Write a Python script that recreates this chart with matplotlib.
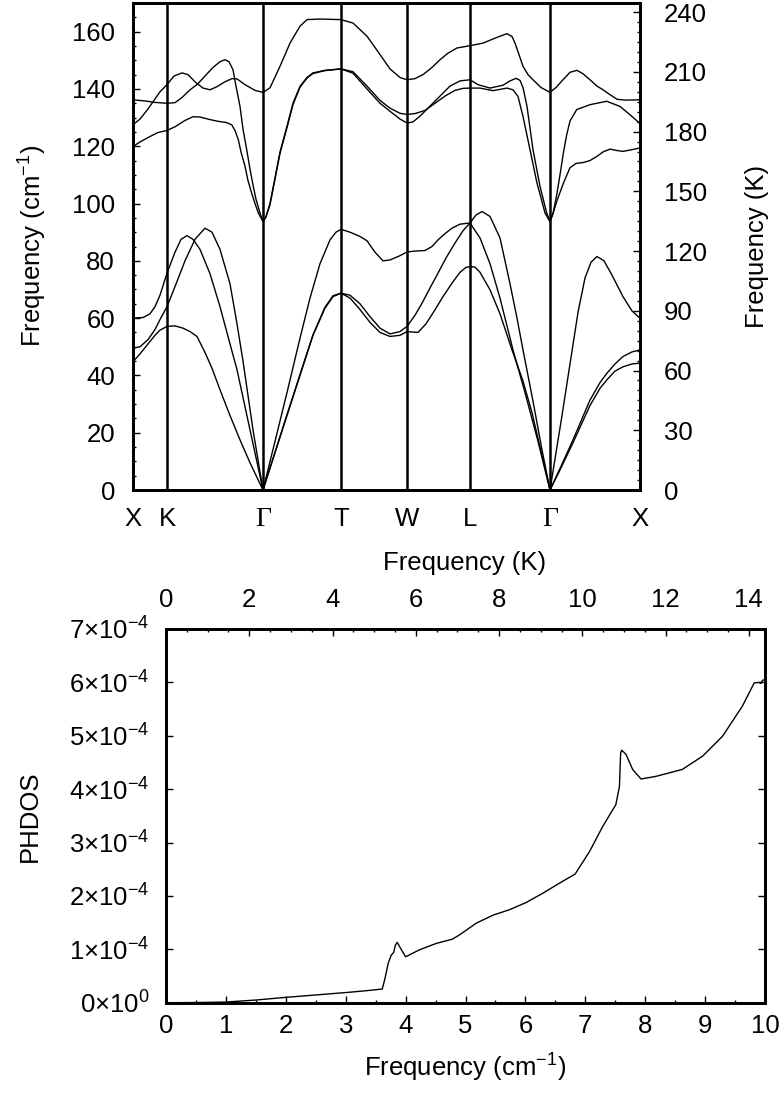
import numpy as np
import matplotlib
matplotlib.use('Agg')
import matplotlib.pyplot as plt
from matplotlib.ticker import MultipleLocator, FuncFormatter

plt.rcParams['font.family'] = ['Liberation Sans', 'DejaVu Sans']
plt.rcParams['mathtext.fontset'] = 'custom'
plt.rcParams['mathtext.rm'] = 'Liberation Sans'
plt.rcParams['mathtext.it'] = 'Liberation Sans:italic'
plt.rcParams['font.size'] = 18.5

CM_TO_K = 1.4388   # 1 cm^-1 in kelvin

# ---------------- phonon dispersion ----------------
sym_labels = ['X', 'K', 'Γ', 'T', 'W', 'L', 'Γ', 'X']
sym_k = [0, 34, 130, 208, 274, 337, 417, 507]

# acoustic branches (cm^-1)
ac1_k = [0, 10, 17, 22, 27, 34, 42, 48, 54, 60, 67, 77, 87, 97, 104, 117, 130,
         142, 154, 167, 177, 187, 197, 203, 208,
         217, 227, 234, 242, 250, 257, 267, 274,
         282, 292, 299, 305, 312, 319, 327, 337,
         347, 357, 367, 380, 392, 405, 417,
         423, 429, 437, 445, 452, 458, 464, 471, 479, 490, 499, 507]
ac1_f = [60.0, 60.2, 61.5, 64, 68, 75.7, 83, 87.5, 88.8, 87.5, 84, 75.5, 64, 51, 42, 21, 0,
         17, 34, 53, 67, 79, 87.3, 90, 91,
         90, 88.5, 87, 83, 80, 80.3, 81.8, 83.1,
         83.4, 83.6, 85, 87.3, 89.5, 91.4, 92.8, 93.2,
         88, 79, 67, 48.9, 34, 17, 0,
         13, 26, 44, 62, 74, 79.5, 81.5, 80, 75, 67.5, 62.5, 60]

ac2_k = [0, 7, 15, 22, 27, 34, 42, 52, 62, 72, 79, 87, 97, 104, 110, 120, 130,
         142, 154, 167, 180, 192, 200, 208,
         217, 227, 237, 247, 257, 267, 274,
         282, 289, 297, 305, 313, 322, 330, 337, 343, 349, 357, 367, 377, 384, 390, 400, 409, 417,
         427, 440, 457, 467, 474, 482, 490, 499, 507]
ac2_f = [49.5, 50, 52.5, 56, 59.5, 64, 71, 80, 87.5, 91.4, 90, 84, 72, 58, 45, 21, 0,
         13, 26, 40, 54, 63.5, 67.5, 68.7,
         68, 65, 60.5, 56.5, 54.5, 55.3, 57.1,
         61, 65.2, 70.5, 75.7, 81, 86.2, 90.5, 93.2, 96, 97.2, 95.5, 88, 72, 60, 48.9, 31, 14, 0,
         7.5, 17.5, 31.4, 37.5, 40.8, 44, 46.6, 48.2, 48.9]

ac3_k = [0, 7, 15, 22, 27, 34, 42, 50, 57, 64, 72, 79, 87, 97, 107, 117, 130,
         142, 154, 167, 180, 192, 200, 208,
         217, 227, 237, 247, 257, 267, 274,
         285, 293, 302, 310, 319, 327, 333, 337,
         342, 347, 357, 367, 379, 390, 399, 407, 417,
         427, 440, 457, 467, 474, 482, 490, 499, 507]
ac3_f = [44.8, 47.5, 51, 54, 55.8, 57.1, 57.3, 56.5, 55.3, 53.6, 48, 42.5, 35, 26, 17.5, 9.5, 0,
         13.2, 26.3, 40.3, 54.2, 63.8, 67.8, 68.7,
         67, 63, 58.5, 55, 53.6, 54, 55.3,
         55, 58, 62.9, 67.5, 72.2, 76, 77.7, 78,
         77.8, 76, 69.9, 61.5, 48.9, 38, 27, 15, 0,
         7, 16.5, 29.5, 35.5, 38.5, 41.5, 43, 44, 44.3]

# optical branches (cm^-1)
op1_k = [0, 7, 15, 22, 27, 34, 41, 49, 55, 62, 70, 77, 84, 92, 99, 104, 112, 122, 130,
         137, 147, 157, 167, 174, 187, 208,
         220, 234, 245, 257, 267, 274,
         282, 290, 299, 307, 315, 324, 337,
         350, 364, 374, 379, 382, 386, 390, 395, 400, 408, 417,
         423, 430, 437, 444, 450, 457, 464, 470, 477, 484, 492, 507]
op1_f = [127.5, 129.5, 133, 136.5, 139, 141.5, 144.5, 145.6, 145, 142.5, 140.3, 139.7, 140.8,
         142.5, 143.6, 143.5, 141.5, 139.5, 138.8,
         140.4, 147.9, 156, 161.9, 164.2, 164.4, 164.2,
         163, 158.4, 153, 147, 144, 143.2,
         143.6, 145, 147.5, 150.2, 152.5, 154.3, 155.1,
         156, 158, 159.3, 158.3, 156, 152, 147.9, 145, 143.2, 140.5, 138.8,
         140.5, 143.2, 145.8, 146.5, 145.3, 143.2, 141, 139.7, 138, 136.4, 136.1, 136.2]

op2_k = [0, 12, 22, 34, 42, 49, 57, 64, 72, 80, 87, 92, 96, 100, 103, 107, 110, 113.7, 117,
         120.3, 123, 127, 130,
         133, 137, 142, 147, 154, 160, 167, 174, 180, 192, 208,
         220, 234, 247, 257, 267, 274,
         282, 292, 302, 312, 322, 330, 337,
         347, 360, 374, 380, 385, 390, 397, 404, 408, 412, 417,
         420, 423.7, 427, 430.3, 433.7, 437, 443.7, 457, 473.7, 487, 497, 507]
op2_f = [136.2, 135.8, 135.3, 135, 135.2, 137, 139.7, 141.5, 144.5, 147.5, 149.5, 150.2, 149.5,
         146.7, 141, 133.9, 126, 118.8, 112, 106, 101.5, 96.7, 93.7,
         95.5, 100, 109, 118, 127, 135, 140.9, 144, 145.6, 146.5, 147,
         146, 141, 136, 133.3, 131.5, 131.1,
         131.4, 132.5, 135, 137.5, 139.5, 140.2, 140.3,
         140.3, 139.4, 140.3, 139.7, 137.4, 130.4, 118.8, 107.1, 102, 96.7, 93.7,
         96.5, 103, 110, 117.5, 124, 128.8, 132.8, 134.5, 135.7, 133.9, 131, 127.9]

op3_k = [0, 7, 17, 25, 34, 42, 52, 60, 67, 77, 85, 93, 98.7, 102, 105.3, 108, 112, 115, 118.7,
         122, 125.3, 130,
         133, 137, 142, 147, 154, 160, 167, 174, 180, 192, 208,
         220, 234, 247, 257, 267, 274,
         280, 287, 297, 307, 317, 327, 337,
         345, 357, 370, 377, 383, 387, 390, 394, 400, 407, 413.7, 417,
         420, 424, 430.3, 437, 443, 450, 457, 463.7, 470, 477, 484, 490, 499, 507]
op3_f = [119.9, 121.5, 123.4, 124.8, 125.5, 126.8, 129, 130.3, 130.2, 129.3, 128.7, 128.3, 127.5,
         125.5, 122.3, 118, 113, 108, 103.6, 100, 96.7, 93.7,
         95.3, 99.6, 108.5, 117.5, 126.5, 134.6, 140.6, 143.8, 145.4, 146.4, 147,
         145.5, 140, 135, 132.2, 129.5, 128.1,
         128.5, 130.5, 134, 137.5, 141, 142.8, 143.2,
         141.5, 140.3, 141.3, 142.8, 143.7, 143, 140.5, 133.9, 118.8, 106, 96.7, 93.7,
         96.5, 101, 107, 112.5, 114, 114.3, 115, 116.4, 118, 119, 118.5, 118.2, 118.8, 119.4]

bands = [(ac1_k, ac1_f), (ac2_k, ac2_f), (ac3_k, ac3_f),
         (op1_k, op1_f), (op2_k, op2_f), (op3_k, op3_f)]

# ---------------- phonon DOS ----------------
dos_freq = [0, 0.5, 1, 1.5, 2, 2.5, 3, 3.3, 3.61, 3.65, 3.71, 3.76, 3.80, 3.83, 3.86, 3.90, 4.0,
            4.23, 4.51, 4.78, 4.9, 5.18, 5.46, 5.73, 6.01, 6.29, 6.57, 6.83, 7.07, 7.29,
            7.51, 7.57, 7.59, 7.61, 7.68, 7.79, 7.93, 8.18, 8.62, 8.96, 9.29, 9.62, 9.82,
            9.90, 9.93, 9.96, 10.0]
dos_val = [0, 0.003, 0.0125, 0.05, 0.1, 0.145, 0.19, 0.22, 0.256, 0.425, 0.74, 0.89, 0.94, 1.08,
           1.13, 1.05, 0.86,
           0.99, 1.11, 1.19, 1.27, 1.49, 1.64, 1.74, 1.875, 2.05, 2.24, 2.41, 2.83, 3.30,
           3.71, 4.05, 4.68, 4.73, 4.65, 4.37, 4.19, 4.24, 4.37, 4.62, 4.99, 5.55, 5.99,
           6.0, 5.98, 6.04, 6.05]   # in units of 1e-4

W, H = 784, 1094
fig = plt.figure(figsize=(W / 100, H / 100), dpi=100)


def box(l, t, r, b):
    """pixel box -> figure fraction rect"""
    return [l / W, 1 - b / H, (r - l) / W, (b - t) / H]


#------------------------------------------------------------
# top panel: dispersion
ax1 = fig.add_axes(box(133, 3, 640, 490))
for k, f in bands:
    ax1.plot(k, f, color='k', lw=1.0)
for kk in sym_k[1:-1]:
    ax1.axvline(kk, color='k', lw=1.8)
ax1.set_xlim(sym_k[0], sym_k[-1])
ax1.set_ylim(0, 170)
ax1.set_xticks(sym_k, sym_labels)
ax1.tick_params(axis='x', length=0, pad=12)
for lbl in ax1.get_xticklabels():
    if lbl.get_text() == 'Γ':
        lbl.set_fontfamily('Liberation Serif')
        lbl.set_fontsize(20)
ax1.yaxis.set_major_locator(MultipleLocator(20))
ax1.yaxis.set_minor_locator(MultipleLocator(5))
ax1.tick_params(axis='y', which='both', direction='in', left=True, right=False, pad=13)
ax1.tick_params(axis='y', which='major', length=5, width=1)
ax1.tick_params(axis='y', which='minor', length=2.5, width=1)

ax1r = ax1.twinx()
ax1r.set_ylim(0, 170 * CM_TO_K)
ax1r.yaxis.set_major_locator(MultipleLocator(30))
ax1r.yaxis.set_minor_locator(MultipleLocator(5))
ax1r.tick_params(axis='y', which='both', direction='in', pad=17)
ax1r.tick_params(axis='y', which='major', length=5, width=1)
ax1r.tick_params(axis='y', which='minor', length=2.5, width=1)
for a in (ax1, ax1r):
    for s in a.spines.values():
        s.set_linewidth(2)

fig.text(33 / W, 1 - 246 / H, r'Frequency (cm$^{-1}$)', rotation=90, ha='center', va='center')
fig.text(757 / W, 1 - 246 / H, 'Frequency (K)', rotation=90, ha='center', va='center')

#------------------------------------------------------------
# bottom panel: PHDOS
ax2 = fig.add_axes(box(166, 629, 765, 1002.7))
ax2.plot(dos_freq, np.array(dos_val) * 1e-4, color='k', lw=1.0)
ax2.set_xlim(0, 10)
ax2.set_ylim(0, 7e-4)
ax2.xaxis.set_major_locator(MultipleLocator(1))
ax2.xaxis.set_minor_locator(MultipleLocator(0.5))
ax2.yaxis.set_major_locator(MultipleLocator(1e-4))


def sci_fmt(v, pos):
    n = int(round(v / 1e-4))
    if n == 0:
        return r'$0{\times}10^{0}$'
    return r'$%d{\times}10^{-4}$' % n


ax2.yaxis.set_major_formatter(FuncFormatter(sci_fmt))

ax2t = ax2.twiny()
ax2t.set_xlim(0, 10 * CM_TO_K)
ax2t.xaxis.set_major_locator(MultipleLocator(2))
ax2t.xaxis.set_minor_locator(MultipleLocator(0.5))
ax2t.tick_params(axis='x', which='both', direction='in', pad=12)
ax2t.tick_params(axis='x', which='major', length=5, width=1)
ax2t.tick_params(axis='x', which='minor', length=2.5, width=1)

ax2.tick_params(axis='x', which='both', direction='in', top=False, pad=8)
ax2.tick_params(axis='x', which='major', length=5, width=1)
ax2.tick_params(axis='x', which='minor', length=2.5, width=1)
ax2.tick_params(axis='y', which='both', direction='in', left=True, right=True,
                length=5, width=1, pad=12)
for a in (ax2, ax2t):
    for s in a.spines.values():
        s.set_linewidth(2)

fig.text(465 / W, 1 - 563 / H, 'Frequency (K)', ha='center', va='center')
fig.text(465 / W, 1 - 1068 / H, r'Frequency (cm$^{-1}$)', ha='center', va='center')
fig.text(30 / W, 1 - 816 / H, 'PHDOS', rotation=90, ha='center', va='center')

fig.savefig('out.png', dpi=100)
